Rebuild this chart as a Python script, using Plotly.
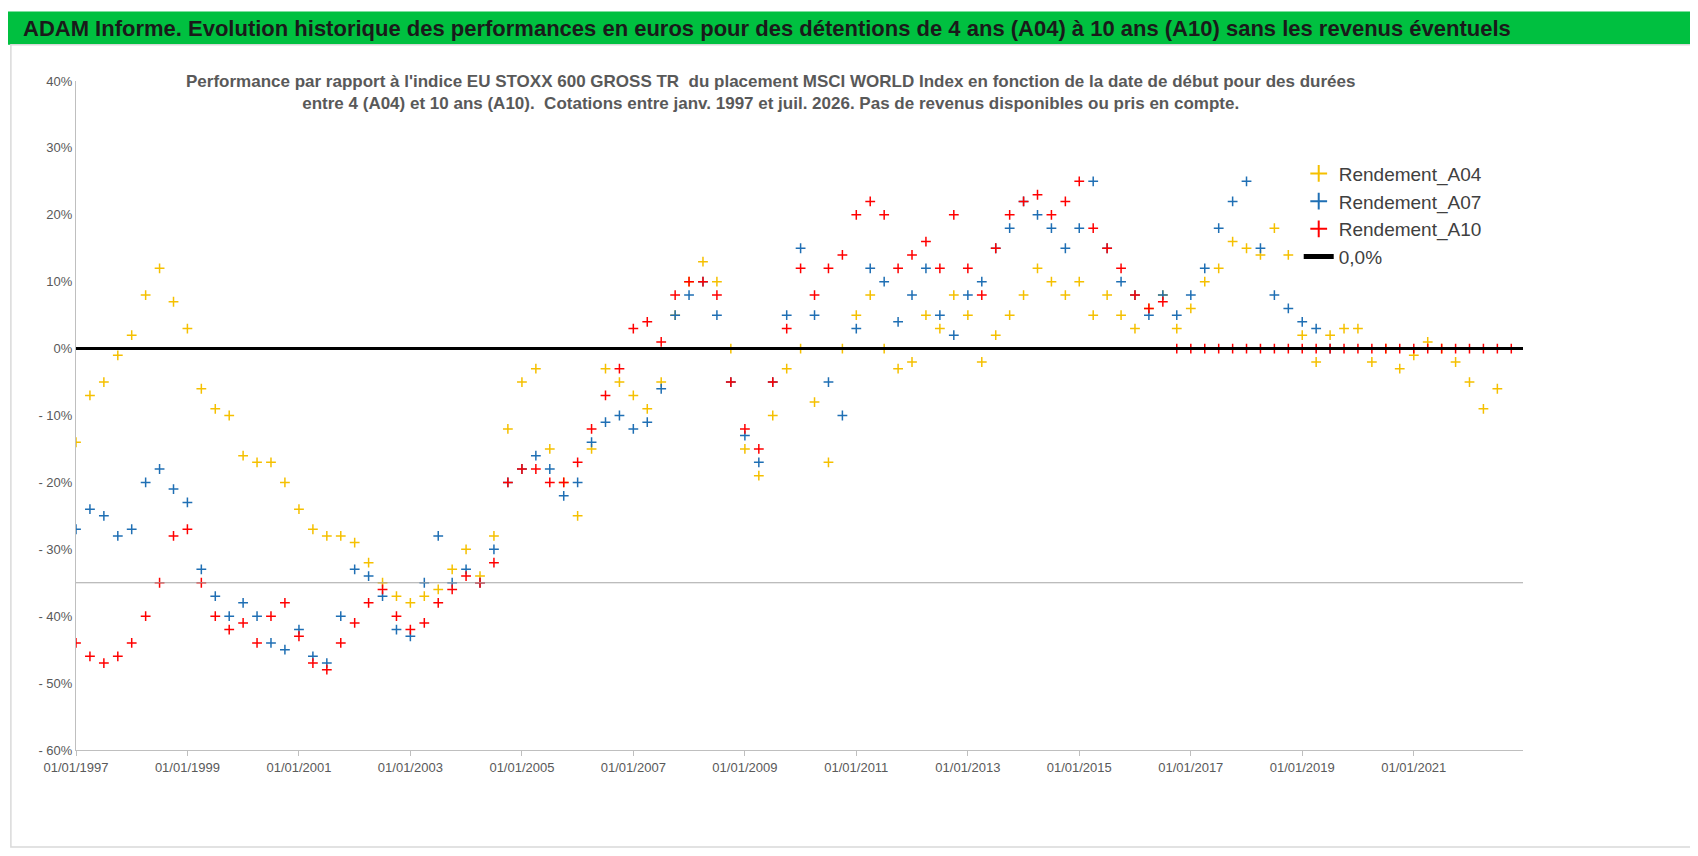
import plotly.graph_objects as go
import datetime as dt

start_year = 1997.0
step = 0.25
a04 = [-14,-7,-5,-1,2,8,12,7,3,-6,-9,-10,-16,-17,-17,-20,-24,-27,-28,-28,-29,-32,-35,-37,-38,-37,-36,-33,-30,-34,-28,-12,-5,-3,-15,-20,-25,-15,-3,-5,-7,-9,-5,5,10,13,10,0,-15,-19,-10,-3,0,-8,-17,0,5,8,0,-3,-2,5,3,8,5,-2,2,5,8,12,10,8,10,5,8,5,3,6,8,3,6,10,12,16,15,14,18,14,2,-2,2,3,3,-2,0,-3,-1,1,0,-2,-5,-9,-6]
a07 = [-27,-24,-25,-28,-27,-20,-18,-21,-23,-33,-37,-40,-38,-40,-44,-45,-42,-46,-47,-40,-33,-34,-37,-42,-43,-35,-28,-35,-33,-35,-30,-20,-18,-16,-18,-22,-20,-14,-11,-10,-12,-11,-6,5,8,10,5,-5,-13,-17,-5,5,15,5,-5,-10,3,12,10,4,8,12,5,2,8,10,15,18,22,20,18,15,18,25,15,10,8,5,8,5,8,12,18,22,25,15,8,6,4,3,0]
a10 = [-44,-46,-47,-46,-44,-40,-35,-28,-27,-35,-40,-42,-41,-44,-40,-38,-43,-47,-48,-44,-41,-38,-36,-40,-42,-41,-38,-36,-34,-35,-32,-20,-18,-18,-20,-20,-17,-12,-7,-3,3,4,1,8,10,10,8,-5,-12,-15,-5,3,12,8,12,14,20,22,20,12,14,16,12,20,12,8,15,20,22,23,20,22,25,18,15,12,8,6,7] + [0]*25
y_ticks = [40,30,20,10,0,-10,-20,-30,-40,-50,-60]
x_tick_years = [1997,1999,2001,2003,2005,2007,2009,2011,2013,2015,2017,2019,2021]

def to_date(y):
    d0 = dt.datetime(int(y),1,1)
    return d0 + dt.timedelta(days=(y-int(y))*365.25)

def dates(n):
    return [to_date(start_year + i*step) for i in range(n)]

def ylab(v):
    return f"{v}%" if v >= 0 else f"- {abs(v)}%"

fig = go.Figure()
for name, vals, col in [("Rendement_A04", a04, "#f5c000"), ("Rendement_A07", a07, "#1f6fb4"), ("Rendement_A10", a10, "#ff0000")]:
    fig.add_trace(go.Scatter(x=dates(len(vals)), y=vals, mode="markers", name=name,
        marker=dict(symbol="cross-thin-open", size=7, line=dict(color=col, width=1.5), color=col)))
fig.add_trace(go.Scatter(x=[to_date(1997.0), to_date(2022.96)], y=[0,0], mode="lines", name="0,0%",
    line=dict(color="black", width=3)))

fig.update_layout(
    width=1698, height=856, paper_bgcolor="white", plot_bgcolor="white",
    margin=dict(l=68, r=183, t=73, b=114),
    font=dict(family="Liberation Sans Narrow, Liberation Sans, Arial", color="#595959", size=13),
    showlegend=True,
    legend=dict(x=0.845, y=0.89, xanchor="left", yanchor="top", bgcolor="white",
                font=dict(size=19, color="#404040"), itemsizing="constant"),
    xaxis=dict(range=[to_date(1997.0), to_date(2022.96)], tickvals=[dt.datetime(y,1,1) for y in x_tick_years],
               ticktext=[f"01/01/{y}" for y in x_tick_years], showgrid=False, showline=True,
               linecolor="#bfbfbf", ticks="outside", tickcolor="#bfbfbf", tickfont=dict(size=13)),
    yaxis=dict(range=[-60,40], tickvals=y_ticks, ticktext=[ylab(v) for v in y_ticks], showgrid=False,
               showline=True, linecolor="#bfbfbf", zeroline=False, tickfont=dict(size=13)),
    shapes=[
        dict(type="rect", xref="paper", yref="paper", x0=-0.047, x1=1.126, y0=1.054, y1=1.104, fillcolor="#00c040", line=dict(width=0), layer="below"),
        dict(type="rect", xref="paper", yref="paper", x0=-0.045, x1=1.124, y0=-0.145, y1=1.054, fillcolor="rgba(0,0,0,0)", line=dict(color="#d9d9d9", width=1.5)),
        dict(type="line", xref="paper", yref="y", x0=0, x1=1, y0=-35, y1=-35, line=dict(color="#a6a6a6", width=1)),
    ],
    annotations=[
        dict(text="<b>ADAM Informe. Evolution historique des performances en euros pour des détentions de 4 ans (A04) à 10 ans (A10) sans les revenus éventuels</b>",
             xref="paper", yref="paper", x=-0.038, y=1.079, xanchor="left", yanchor="middle", showarrow=False,
             font=dict(size=22, color="#1a1a1a")),
        dict(text="<b>Performance par rapport à l'indice EU STOXX 600 GROSS TR  du placement MSCI WORLD Index en fonction de la date de début pour des durées<br>entre 4 (A04) et 10 ans (A10).  Cotations entre janv. 1997 et juil. 2026. Pas de revenus disponibles ou pris en compte.</b>",
             xref="paper", yref="paper", x=0.48, y=1.016, xanchor="center", yanchor="top", showarrow=False,
             font=dict(size=17, color="#595959")),
    ],
)
fig.write_html("out.html")
